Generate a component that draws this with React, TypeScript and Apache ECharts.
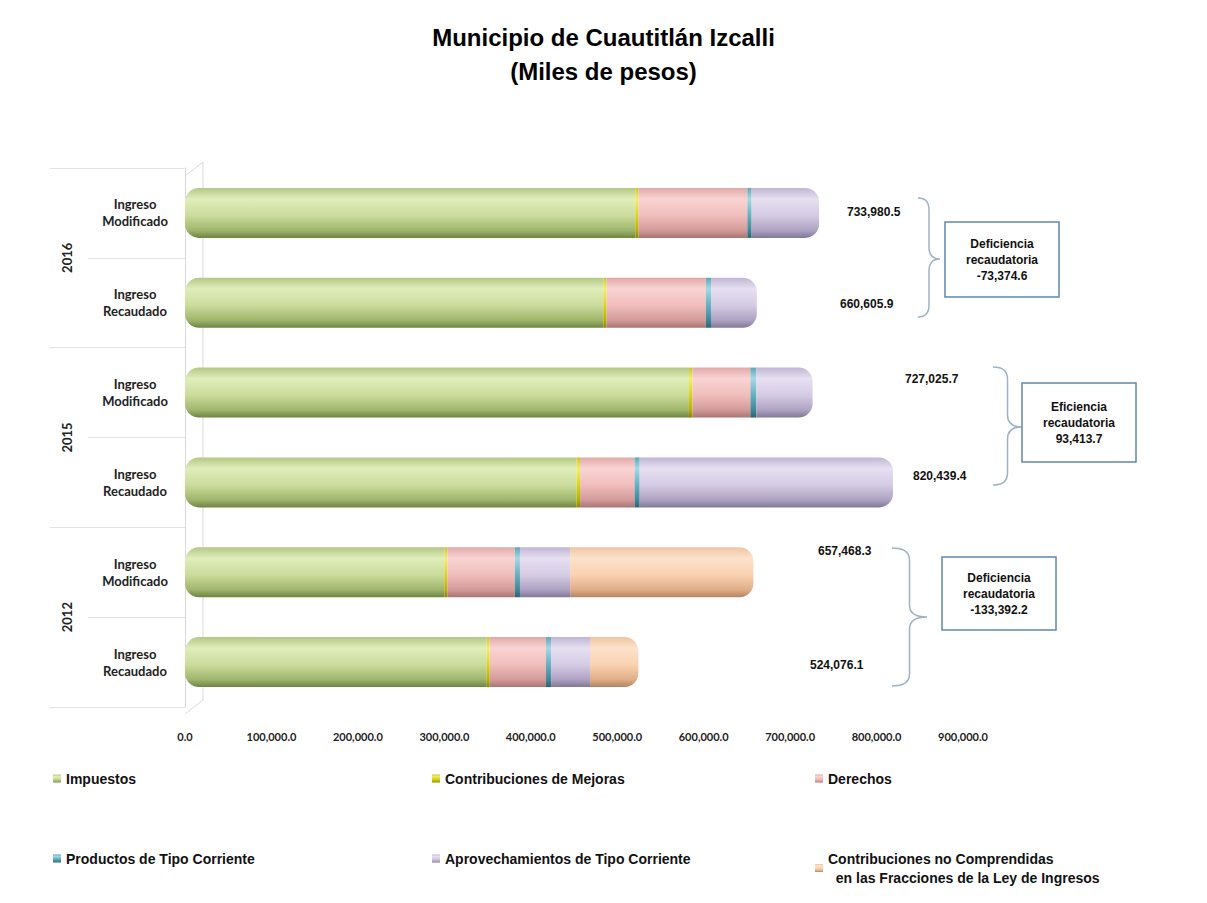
import React, { useEffect, useRef } from "react";
import * as echarts from "echarts";

// Rows from bottom to top (ECharts category order)
const rowLabels = [
  "Ingreso\nRecaudado",
  "Ingreso\nModificado",
  "Ingreso\nRecaudado",
  "Ingreso\nModificado",
  "Ingreso\nRecaudado",
  "Ingreso\nModificado",
];
const years = ["2012", "2015", "2016"];

const impuestos = [349000, 300000, 453000, 583000, 484000, 521000];
const mejoras = [3500, 3500, 4000, 4000, 3500, 3500];
const derechos = [65000, 78000, 63000, 67000, 115000, 126000];
const productos = [6000, 6000, 6000, 7000, 6000, 5000];
const aprovechamientos = [45000, 58000, 293000, 65000, 53000, 78000];
const noComprendidas = [56000, 212000, 0, 0, 0, 0];

const totals = [524076.1, 657468.3, 820439.4, 727025.7, 660605.9, 733980.5];
const diffs = [
  { title: "Deficiencia\nrecaudatoria", value: -133392.2 },
  { title: "Eficiencia\nrecaudatoria", value: 93413.7 },
  { title: "Deficiencia\nrecaudatoria", value: -73374.6 },
];

const xTicks = { min: 0, max: 900000, interval: 100000 };

const seriesNames = [
  "Impuestos",
  "Contribuciones de Mejoras",
  "Derechos",
  "Productos de Tipo Corriente",
  "Aprovechamientos de Tipo Corriente",
  "Contribuciones no Comprendidas\n  en las Fracciones de la Ley de Ingresos",
];
const seriesData = [impuestos, mejoras, derechos, productos, aprovechamientos, noComprendidas];

const palettes = [
  ["#b3c785", "#e0eebb", "#cbdc9c", "#9fb56c", "#6d8443"],
  ["#c9c62a", "#f0ee6a", "#d8d520", "#b3b000", "#8a8700"],
  ["#e0a9a8", "#f9d4d3", "#f0bebd", "#d39a98", "#a87473"],
  ["#5ea6b6", "#a6d8e3", "#66b0c0", "#3f8898", "#2a6470"],
  ["#c0b5d4", "#e6e0f1", "#d5cce4", "#ada2c2", "#817796"],
  ["#efc5a2", "#fde2cb", "#f9d2b1", "#dfae87", "#b38463"],
];

const fmt = (v: number) =>
  v.toLocaleString("en-US", { minimumFractionDigits: 1, maximumFractionDigits: 1 });

function bracePath(x0: number, y0: number, y1: number, ym: number, w: number) {
  const xm = x0 + w * 0.5;
  const xt = x0 + w;
  const r = 12;
  return `M${x0} ${y0} Q${xm} ${y0} ${xm} ${y0 + r} L${xm} ${ym - r} Q${xm} ${ym} ${xt} ${ym} Q${xm} ${ym} ${xm} ${ym + r} L${xm} ${y1 - r} Q${xm} ${y1} ${x0} ${y1}`;
}

echarts.graphic.registerShape("brace1", echarts.graphic.extendPath(bracePath(918, 198, 317, 259, 22), {}));
echarts.graphic.registerShape("brace2", echarts.graphic.extendPath(bracePath(993, 367, 485, 427, 29), {}));
echarts.graphic.registerShape("brace3", echarts.graphic.extendPath(bracePath(892, 548, 686, 617, 35), {}));

export default function App() {
  const ref = useRef<HTMLDivElement>(null);

  useEffect(() => {
    if (!ref.current) return;
    const chart = echarts.init(ref.current, null, { renderer: "svg" });

    const grad = (p: string[]) =>
      new echarts.graphic.LinearGradient(0, 0, 0, 1, [
        { offset: 0, color: p[0] },
        { offset: 0.22, color: p[1] },
        { offset: 0.55, color: p[2] },
        { offset: 0.85, color: p[3] },
        { offset: 1, color: p[4] },
      ]);

    const lastIdx = rowLabels.map((_, r) => {
      let li = 0;
      seriesData.forEach((arr, s) => {
        if (arr[r] > 0) li = s;
      });
      return li;
    });

    const series = seriesData.map((arr, s) => ({
      name: seriesNames[s],
      type: "bar",
      stack: "total",
      barWidth: 50,
      itemStyle: { color: grad(palettes[s]) },
      data: arr.map((v, r) => {
        let br: number[] = [0, 0, 0, 0];
        if (s === 0) br = [14, 0, 0, 14];
        if (lastIdx[r] === s) br = [0, 14, 14, 0];
        return { value: v, itemStyle: { borderRadius: br } };
      }),
    }));

    const valueLabelPos = [
      [810, 665],
      [818, 551],
      [913, 476],
      [905, 379],
      [840, 304],
      [847, 212],
    ];
    const boxes = [
      { x: 942, y: 557, w: 114, h: 73 },
      { x: 1022, y: 383, w: 114, h: 79 },
      { x: 945, y: 222, w: 114, h: 75 },
    ];

    const graphic: any[] = [
      // 3D wall edges
      {
        type: "polyline",
        shape: { points: [[185, 176], [203, 162], [203, 700], [185, 714]] },
        style: { stroke: "#d9d9d9", lineWidth: 1, fill: "none" },
      },
      { type: "brace1", style: { stroke: "#9db2c9", lineWidth: 1.5, fill: "none" } },
      { type: "brace2", style: { stroke: "#9db2c9", lineWidth: 1.5, fill: "none" } },
      { type: "brace3", style: { stroke: "#9db2c9", lineWidth: 1.5, fill: "none" } },
    ];
    totals.forEach((t, i) => {
      graphic.push({
        type: "text",
        x: valueLabelPos[i][0],
        y: valueLabelPos[i][1],
        style: {
          text: fmt(t),
          font: "bold 12px 'Liberation Sans', Arial, sans-serif",
          fill: "#111",
          verticalAlign: "middle",
          align: "left",
        },
      });
    });
    boxes.forEach((b, i) => {
      graphic.push({
        type: "rect",
        shape: { x: b.x, y: b.y, width: b.w, height: b.h },
        style: { fill: "#fff", stroke: "#5f88b0", lineWidth: 1.5 },
      });
      graphic.push({
        type: "text",
        x: b.x + b.w / 2,
        y: b.y + b.h / 2,
        style: {
          text: diffs[i].title + "\n" + fmt(diffs[i].value),
          font: "bold 12px 'Liberation Sans', Arial, sans-serif",
          lineHeight: 16,
          fill: "#111",
          align: "center",
          verticalAlign: "middle",
        },
      });
    });

    const legendText = {
      fontFamily: "'Liberation Sans', Arial, sans-serif",
      fontWeight: "bold",
      fontSize: 14,
      color: "#111",
      lineHeight: 19,
    };
    const legendBase = {
      orient: "vertical",
      top: 764,
      itemGap: 61,
      itemWidth: 8,
      itemHeight: 8,
      icon: "rect",
      selectedMode: false,
      textStyle: legendText,
    };

    chart.setOption({
      animation: false,
      backgroundColor: "#ffffff",
      title: {
        text: "Municipio de Cuautitlán Izcalli\n(Miles de pesos)",
        left: "center",
        top: 15,
        textStyle: {
          fontFamily: "'Liberation Sans', Arial, sans-serif",
          fontWeight: "bold",
          fontSize: 24,
          lineHeight: 34,
          color: "#000",
        },
      },
      legend: [
        { ...legendBase, left: 48, data: [seriesNames[0], seriesNames[3]] },
        { ...legendBase, left: 427, data: [seriesNames[1], seriesNames[4]] },
        { ...legendBase, left: 810, data: [seriesNames[2], seriesNames[5]] },
      ],
      grid: { left: 185, right: 244, top: 168, bottom: 196, containLabel: false },
      xAxis: {
        type: "value",
        min: xTicks.min,
        max: xTicks.max,
        interval: xTicks.interval,
        axisLine: { show: false },
        axisTick: { show: false },
        splitLine: { show: false },
        axisLabel: {
          margin: 24,
          formatter: (v: number) => fmt(v),
          fontFamily: "Lato, 'Liberation Sans', sans-serif",
          fontWeight: "bold",
          fontSize: 11,
          color: "#222",
        },
      },
      yAxis: [
        {
          type: "category",
          data: rowLabels,
          position: "left",
          axisLine: { show: true, lineStyle: { color: "#d9d9d9" } },
          axisTick: { show: true, length: 97, lineStyle: { color: "#e3e3e3" } },
          axisLabel: {
            margin: 50,
            align: "center",
            fontFamily: "Lato, 'Liberation Sans', sans-serif",
            fontWeight: "bold",
            fontSize: 13,
            lineHeight: 17,
            color: "#222",
          },
        },
        {
          type: "category",
          data: years,
          position: "left",
          axisLine: { show: false },
          axisTick: { show: true, length: 135, lineStyle: { color: "#e3e3e3" } },
          axisLabel: {
            rotate: 90,
            margin: 112,
            fontFamily: "Lato, 'Liberation Sans', sans-serif",
            fontWeight: "bold",
            fontSize: 13,
            color: "#222",
          },
        },
      ],
      series,
      graphic,
    });

    return () => chart.dispose();
  }, []);

  return (
    <div
      ref={ref}
      style={{ position: "fixed", left: 0, top: 0, width: 1207, height: 903, background: "#fff" }}
    />
  );
}
